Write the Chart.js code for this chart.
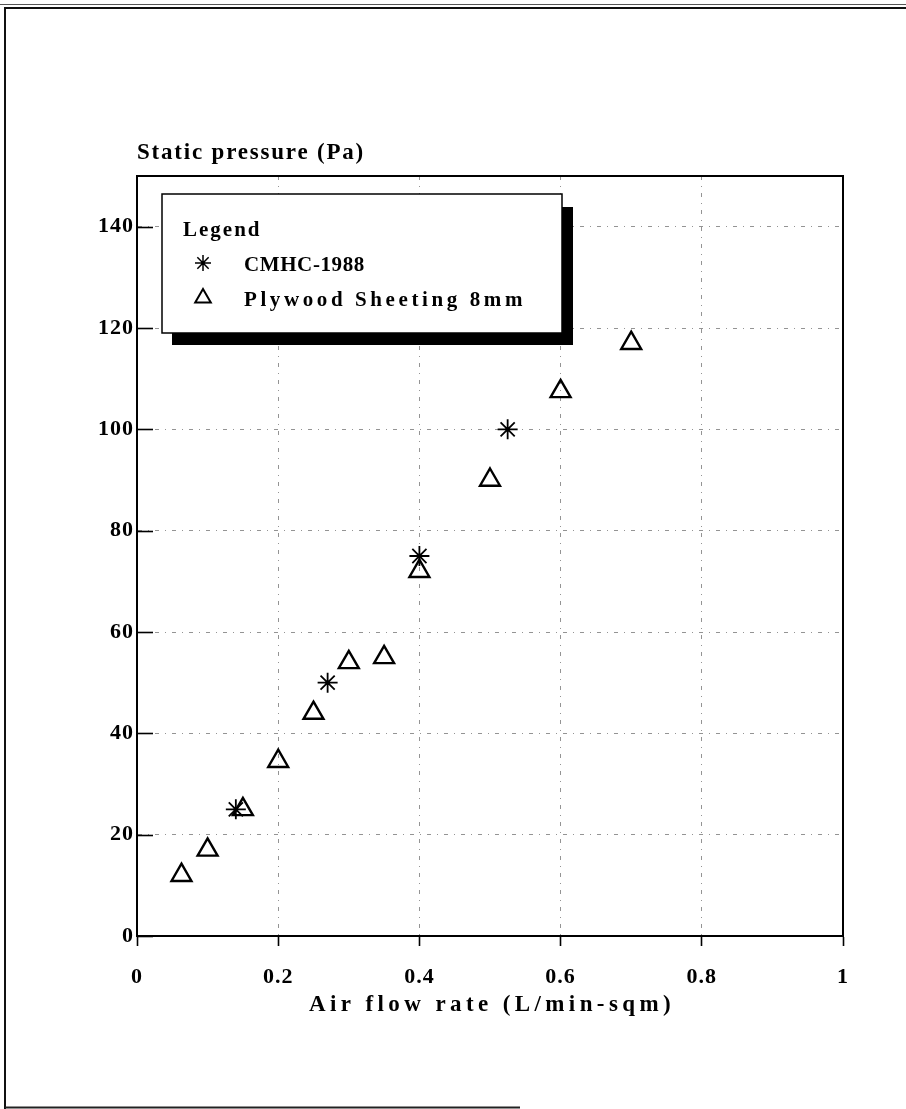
<!DOCTYPE html>
<html>
<head>
<meta charset="utf-8">
<title>Static pressure vs air flow rate</title>
<script src="https://cdn.jsdelivr.net/npm/chart.js@4.4.1/dist/chart.umd.min.js"></script>
<style>
  html, body { margin: 0; padding: 0; background: #fff; }
  #wrap { position: relative; width: 906px; height: 1109px; }
  canvas { display: block; }
</style>
</head>
<body>
<div id="wrap"><canvas id="c" width="906" height="1109"></canvas></div>
<script>
// Measured series: air flow rate (L/min-sqm) against static pressure (Pa)
const cmhcFlow = [0.14, 0.27, 0.40, 0.525];
const cmhcPressure = [25, 50, 75, 100];
const plywoodFlow = [0.063, 0.10, 0.15, 0.20, 0.25, 0.30, 0.35, 0.40, 0.50, 0.60, 0.70];
const plywoodPressure = [12, 17, 25, 34.5, 44, 54, 55, 72, 90, 107.5, 117];

// Axis ticks and labels
const xTicks = [0, 0.2, 0.4, 0.6, 0.8, 1];
const yTicks = [0, 20, 40, 60, 80, 100, 120, 140];
const seriesNames = ['CMHC-1988', 'Plywood Sheeting 8mm'];
const xTitle = 'Air flow rate (L/min-sqm)';
const yTitle = 'Static pressure (Pa)';
const legendTitle = 'Legend';

const FONT = '"Liberation Serif", "Times New Roman", serif';
const GRID = 'rgba(0,0,0,0.42)';
const NONE = 'rgba(0,0,0,0)';

Chart.defaults.font.family = FONT;
Chart.defaults.font.weight = 'bold';
Chart.defaults.color = '#000';

function symbol(ctx, style, x, y, r, w) {
  ctx.save();
  ctx.strokeStyle = '#000';
  ctx.lineWidth = w;
  if (Chart.helpers && Chart.helpers.drawPoint) {
    ctx.fillStyle = NONE;
    Chart.helpers.drawPoint(ctx, { pointStyle: style, radius: r, borderWidth: w, rotation: 0 }, x, y);
  }
  ctx.restore();
}

// Plot frame, inward y ticks, legend panel, axis titles and page border
const decorations = {
  id: 'decorations',
  beforeDraw(chart) {
    chart.ctx.letterSpacing = '1px';
  },
  afterDraw(chart) {
    const { ctx, chartArea: a, scales: { y } } = chart;
    const ds = chart.data.datasets;
    ctx.save();
    ctx.letterSpacing = '0px';
    ctx.setLineDash([]);

    // plot box
    ctx.strokeStyle = '#000';
    ctx.lineWidth = 2;
    ctx.strokeRect(a.left, a.top, a.right - a.left, a.bottom - a.top);

    // y ticks point into the plot
    ctx.lineWidth = 1.6;
    y.ticks.forEach(t => {
      const py = Math.round(y.getPixelForValue(t.value)) + 0.5;
      ctx.beginPath();
      ctx.moveTo(a.left, py);
      ctx.lineTo(a.left + 16, py);
      ctx.stroke();
    });

    // legend panel with a drop shadow
    const lx = a.left + 25, ly = a.top + 18, lw = 400, lh = 139, sh = 11;
    ctx.fillStyle = '#000';
    ctx.fillRect(lx + 10, ly + lh, lw + sh - 10, 12);
    ctx.fillRect(lx + lw, ly + 13, sh, lh - 13 + 12);
    ctx.fillStyle = '#fff';
    ctx.fillRect(lx, ly, lw, lh);
    ctx.strokeStyle = '#000';
    ctx.lineWidth = 1.5;
    ctx.strokeRect(lx, ly, lw, lh);

    ctx.fillStyle = '#000';
    ctx.textAlign = 'left';
    ctx.textBaseline = 'alphabetic';
    ctx.font = 'bold 21px ' + FONT;
    ctx.letterSpacing = '2px';
    ctx.fillText(legendTitle, lx + 21, ly + 42);
    const rows = [ly + 77, ly + 112];
    const spacing = ['0.6px', '3.6px'];
    ds.forEach((d, i) => {
      const r = d.pointStyle === 'star' ? 8 : 9;
      symbol(ctx, d.pointStyle, lx + 41, rows[i] - 8, r, d.pointStyle === 'star' ? 1.5 : 2);
      ctx.fillStyle = '#000';
      ctx.letterSpacing = spacing[i];
      ctx.fillText(d.label, lx + 82, rows[i]);
    });

    // axis titles
    ctx.font = 'bold 23px ' + FONT;
    ctx.letterSpacing = '1.8px';
    ctx.textAlign = 'left';
    ctx.fillText(yTitle, a.left, a.top - 17);
    ctx.letterSpacing = '4.4px';
    ctx.textAlign = 'center';
    ctx.fillText(xTitle, (a.left + a.right) / 2 + 2, a.bottom + 75);

    // page border
    ctx.strokeStyle = '#111';
    ctx.lineWidth = 2;
    ctx.beginPath();
    ctx.moveTo(5, 1109);
    ctx.lineTo(5, 8);
    ctx.lineTo(906, 8);
    ctx.stroke();
    ctx.lineWidth = 1;
    ctx.strokeStyle = '#555';
    ctx.beginPath();
    ctx.moveTo(0, 4.5);
    ctx.lineTo(906, 4.5);
    ctx.stroke();
    ctx.strokeStyle = '#222';
    ctx.lineWidth = 2;
    ctx.beginPath();
    ctx.moveTo(5, 1107.5);
    ctx.lineTo(520, 1107.5);
    ctx.stroke();
    ctx.restore();
  }
};

new Chart(document.getElementById('c'), {
  type: 'scatter',
  data: {
    datasets: [
      {
        label: seriesNames[0],
        data: cmhcFlow.map((x, i) => ({ x, y: cmhcPressure[i] })),
        pointStyle: 'star',
        pointRadius: 10,
        borderColor: '#000',
        backgroundColor: NONE,
        borderWidth: 1.8
      },
      {
        label: seriesNames[1],
        data: plywoodFlow.map((x, i) => ({ x, y: plywoodPressure[i] })),
        pointStyle: 'triangle',
        pointRadius: 11.5,
        borderColor: '#000',
        backgroundColor: NONE,
        borderWidth: 2.4
      }
    ]
  },
  options: {
    responsive: false,
    animation: false,
    devicePixelRatio: 1,
    layout: { padding: { left: 0, top: 176, right: 63, bottom: 93 } },
    plugins: {
      legend: { display: false },
      tooltip: { enabled: false },
      title: { display: false }
    },
    scales: {
      x: {
        type: 'linear',
        min: 0,
        max: 1,
        afterBuildTicks: s => { s.ticks = xTicks.map(v => ({ value: v })); },
        afterFit: s => { s.height = 80; },
        ticks: {
          autoSkip: false,
          maxRotation: 0,
          padding: 18,
          font: { size: 22, weight: 'bold' },
          callback: v => String(v)
        },
        grid: {
          color: c => (c.tick && (c.tick.value === 0 || c.tick.value === 1)) ? NONE : GRID,
          lineWidth: 1,
          drawTicks: true,
          tickLength: 10,
          tickColor: '#000',
          tickWidth: 1.6,
          tickBorderDash: []
        },
        border: { display: true, color: '#000', width: 2, dash: [4, 6, 1, 6] }
      },
      y: {
        type: 'linear',
        min: 0,
        max: 150,
        afterBuildTicks: s => { s.ticks = yTicks.map(v => ({ value: v })); },
        afterFit: s => { s.width = 137; },
        ticks: {
          padding: 3,
          font: { size: 22, weight: 'bold' },
          callback: v => String(v)
        },
        grid: {
          color: c => (c.tick && c.tick.value === 0) ? NONE : GRID,
          lineWidth: 1,
          drawTicks: false
        },
        border: { display: true, color: '#000', width: 2, dash: [4, 6, 1, 6] }
      }
    }
  },
  plugins: [decorations]
});
</script>
</body>
</html>
